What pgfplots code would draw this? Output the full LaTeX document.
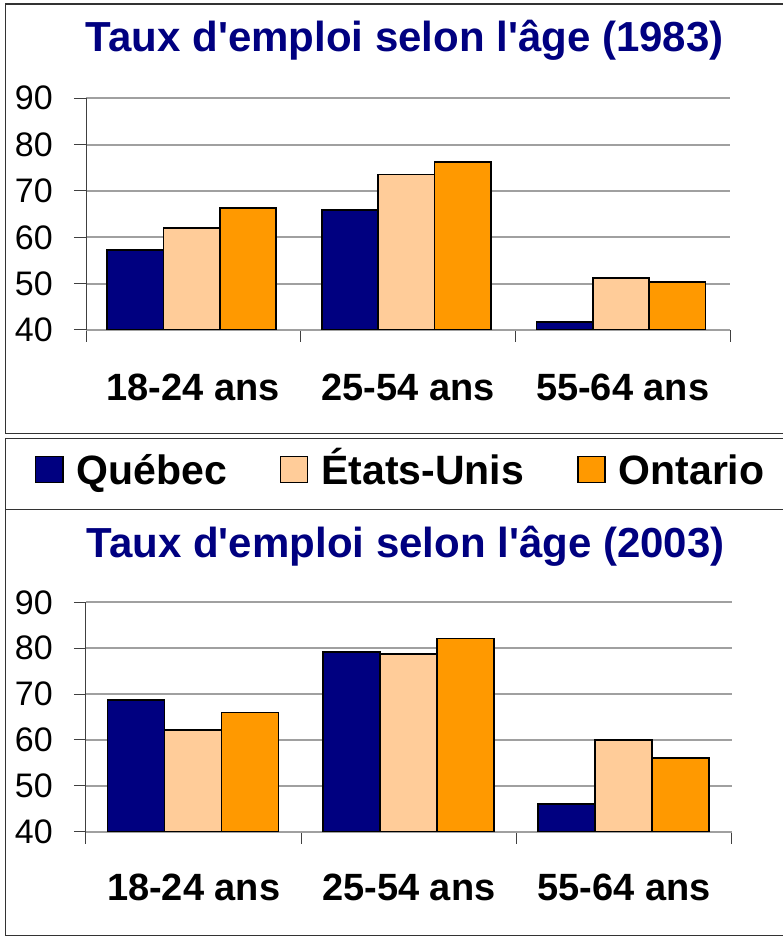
\documentclass[border=0pt]{standalone}
\usepackage{pgfplots}
\pgfplotsset{compat=1.18}
\usepackage{fontspec}
\setmainfont{Liberation Sans}
\definecolor{qc}{HTML}{000080}
\definecolor{us}{HTML}{FFCC99}
\definecolor{on}{HTML}{FF9900}
\definecolor{gridc}{HTML}{A0A0A0}
\definecolor{axc}{HTML}{404040}
\definecolor{boxc}{HTML}{333333}

\pgfplotsset{
  sq/.style={legend image code/.code={\path (0pt,0pt); \draw[##1] (0pt,1.7pt) rectangle (27pt,27.7pt);}},
  mybars/.style={
    ybar, scale only axis,
    xmin=-0.5, xmax=2.5, ymin=40, ymax=90,
    ytick={40,50,60,70,80,90},
    xtick={-0.5,0.5,1.5,2.5}, xticklabels={},
    extra x ticks={0,1,2},
    extra x tick labels={18-24 ans,25-54 ans,55-64 ans},
    extra x tick style={major tick length=0pt, grid=none},
    tick align=outside, major tick length=12pt,
    tick style={axc, line width=1pt},
    axis x line*=bottom, axis y line*=left,
    x axis line style={gridc, line width=2pt, -},
    y axis line style={axc, line width=1pt, -},
    ymajorgrids, major grid style={gridc, line width=2pt},
    xticklabel style={anchor=base, font=\fontsize{38}{38}\selectfont\bfseries},
    yticklabel style={anchor=east, inner sep=0pt, xshift=-21pt, font=\fontsize{34}{34}\selectfont},
    /pgf/number format/assume math mode=true,
    title style={anchor=base, inner sep=0pt, text=qc, font=\fontsize{42}{42}\selectfont\bfseries},
  },
}

\begin{document}
\begin{tikzpicture}[x=1pt,y=1pt]
\useasboundingbox (0,0) rectangle (782,936);
% frames
\draw[boxc, line width=1.5pt] (795,932) -- (5.7,932) -- (5.7,502.7) -- (795,502.7);
\draw[boxc, line width=1.5pt] (795,497.7) -- (5.7,497.7) -- (5.7,426.3) -- (795,426.3);
\draw[boxc, line width=1.5pt] (5.7,426.3) -- (5.7,0.7) -- (795,0.7);

% 1983
\begin{axis}[mybars,
  at={(86pt,606pt)}, anchor=south west,
  width=644pt, height=231.7pt,
  bar width=56.3pt,
  xticklabel style={yshift=-70.7pt},
  title={Taux d\textquotesingle emploi selon l\textquotesingle âge (1983)},
  title style={at={(0.495,1.178)}},
  legend columns=3,
  legend style={at={(axis description cs:-0.0792,-0.5913)}, anchor=west,
    draw=none, fill=none, inner sep=0pt, outer sep=0pt,
    nodes={inner sep=0pt, anchor=base west},
    cells={anchor=base west},
    font=\fontsize{41}{41}\selectfont\bfseries,
    /tikz/every odd column/.append style={column sep=13pt},
    /tikz/every even column/.append style={column sep=53pt}},
]
\addplot[sq, fill=qc, draw=black, line width=1.5pt, bar shift=-58pt] coordinates {(0,57.3) (1,65.9) (2,41.7)};
\addplot[sq, fill=us, draw=black, line width=1.5pt, bar shift=-1.7pt] coordinates {(0,62.0) (1,73.6) (2,51.2)};
\addplot[sq, fill=on, draw=black, line width=1.5pt, bar shift=54.6pt] coordinates {(0,66.3) (1,76.3) (2,50.4)};
\legend{Québec,États-Unis,Ontario}
\end{axis}

% 2003
\begin{axis}[mybars,
  at={(86pt,104.3pt)}, anchor=south west,
  width=645.7pt, height=229.4pt,
  bar width=57pt,
  xticklabel style={yshift=-69pt},
  title={Taux d\textquotesingle emploi selon l\textquotesingle âge (2003)},
  title style={at={(0.495,1.169)}},
]
\addplot[fill=qc, draw=black, line width=1.5pt, bar shift=-57.5pt] coordinates {(0,68.7) (1,79.2) (2,46.0)};
\addplot[fill=us, draw=black, line width=1.5pt, bar shift=-0.5pt] coordinates {(0,62.2) (1,78.7) (2,60.0)};
\addplot[fill=on, draw=black, line width=1.5pt, bar shift=56.5pt] coordinates {(0,66.0) (1,82.1) (2,56.1)};
\end{axis}
\end{tikzpicture}
\end{document}
